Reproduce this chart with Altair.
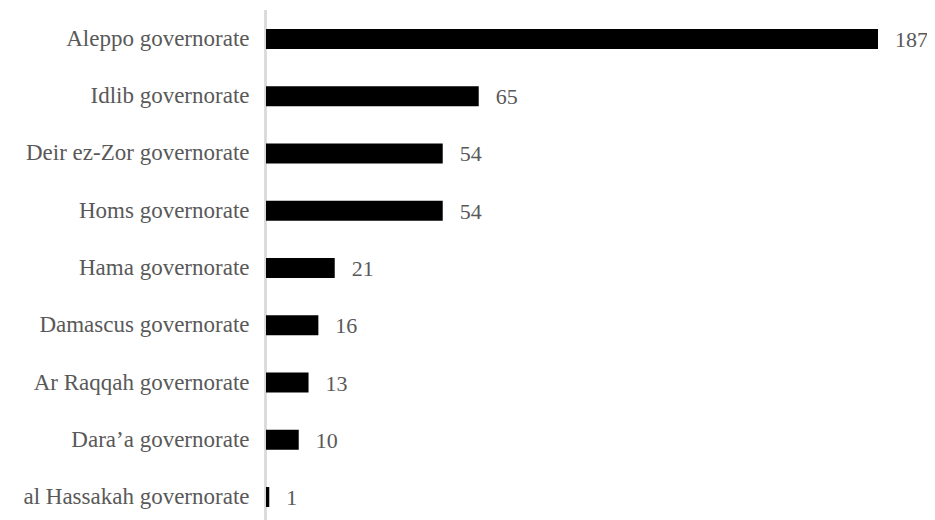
import altair as alt
import pandas as pd

regions = ["Aleppo governorate", "Idlib governorate", "Deir ez-Zor governorate",
           "Homs governorate", "Hama governorate", "Damascus governorate",
           "Ar Raqqah governorate", "Dara\u2019a governorate", "al Hassakah governorate"]
counts = [187, 65, 54, 54, 21, 16, 13, 10, 1]

df = pd.DataFrame({"region": regions, "count": counts})

FONT = "Liberation Serif"
GREY = "#595959"
FS = 23

y_enc = alt.Y("region:N", sort=regions, title=None,
              scale=alt.Scale(paddingInner=0.65, paddingOuter=0.2267),
              axis=alt.Axis(domain=False, ticks=False, grid=False, labelFont=FONT,
                            labelFontSize=FS, labelColor=GREY, labelPadding=17,
                            labelLimit=400))
x_enc = alt.X("count:Q", title=None, scale=alt.Scale(domain=[0, 187], nice=False),
              axis=None)

bars = alt.Chart(df).mark_bar(color="black", size=20).encode(x=x_enc, y=y_enc)
labels = alt.Chart(df).mark_text(align="left", baseline="middle", dx=17, dy=1,
                                 font=FONT, fontSize=22, color=GREY).encode(
    x=x_enc, y=y_enc, text="count:Q")
axis_line = alt.Chart(df).mark_rule(color="#d9d9d9", strokeWidth=1.5).encode(
    x=alt.value(-0.5), y=alt.value(-6), y2=alt.value(504))

chart = alt.layer(axis_line, bars, labels).properties(
    width=612, height=504,
    background="white",
    autosize=alt.AutoSizeParams(type="none"),
    padding={"left": 258, "top": 8, "right": 49, "bottom": 0},
).configure_view(stroke=None, strokeWidth=0)

chart.save("out.html", embed_options={"renderer": "svg", "actions": False})
